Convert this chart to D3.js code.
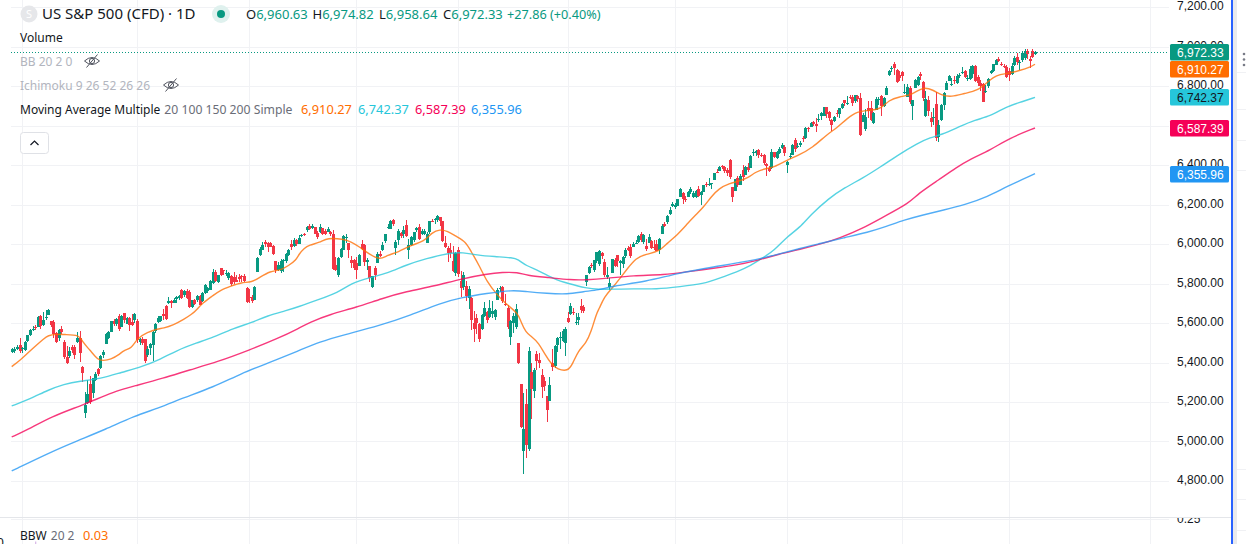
<!DOCTYPE html>
<html>
<head>
<meta charset="utf-8">
<title>US S&amp;P 500 (CFD) 1D</title>
<script src="https://cdn.jsdelivr.net/npm/d3@7/dist/d3.min.js"></script>
<style>
  html, body { margin: 0; padding: 0; background: #fff; overflow: hidden; }
  svg { display: block; font-family: "Noto Sans", "Open Sans", sans-serif; }
</style>
</head>
<body>
<svg id="chart" width="1246" height="544"></svg>
<script>
// Daily candles, one row per month across the four arrays.
const opens = [
  5452,5458,5470,5488,
  5472,5462,5507,5540,5570,5578,5582,5636,5590,5630,5640,5610,5607,5548,5525,5570,5505,5430,5432,5476,5478,5505,
  5525,5379,5143,5193,5291,5244,5312,5365,5374,5440,5496,5525,5555,5612,5595,5635,5580,5649,5597,5625,5607,5615,
  5612,5505,5520,5517,5438,5475,5490,5557,5603,5612,5645,5686,5700,5710,5703,5722,5725,5767,5742,5763,
  5758,5680,5716,5716,5737,5712,5750,5764,5768,5805,5860,5810,5876,5868,5848,5826,5838,5831,5818,5835,5838,5840,5775,
  5734,5730,5716,5860,5944,5970,6012,6007,6003,5990,5914,5870,5865,5912,5915,5945,6000,5990,6020,6000,
  6040,6050,6070,6090,6081,6085,6058,6060,6080,6064,6062,6060,6050,5895,5842,5935,5970,6035,6005,5920,5920,
  5903,5891,6000,5995,5910,5890,5780,5880,5905,5950,5970,6015,6080,6077,6120,5980,6020,6055,6050,6095,
  5969,5995,6020,6072,6085,6050,6050,6005,6060,6115,6122,6120,6135,6114,6005,5980,5970,5915,5855,
  5968,5812,5782,5785,5725,5725,5600,5625,5595,5570,5635,5655,5630,5645,5630,5718,5775,5780,5695,5675,5530,
  5598,5580,5500,5292,4950,5190,4960,5353,5255,5441,5411,5335,5305,5232,5207,5395,5381,5489,5529,5508,5500,
  5626,5645,5655,5605,5615,5685,5680,5807,5855,5895,5870,5915,5900,5955,5910,5835,5782,5855,5920,5945,5905,
  5897,5938,5978,5985,5987,6004,6010,6050,6010,5990,6005,6015,5985,6000,5970,6050,6100,6110,6150,6190,
  6187,6190,6240,6260,6230,6240,6265,6240,6240,6280,6250,6265,6305,6300,6305,6325,6365,6370,6395,6390,6375,6425,
  6290,6270,6335,6300,6375,6350,6390,6385,6460,6460,6475,6450,6450,6405,6385,6385,6465,6435,6460,6485,6490,
  6400,6445,6450,6525,6490,6500,6535,6535,6585,6590,6620,6610,6630,6650,6650,6695,6670,6630,6625,6665,6660,
  6690,6730,6715,6745,6745,6725,6750,6740,6620,6580,6690,6690,6615,6680,6735,6750,6700,6755,6855,6890,6910,6880,6855,
  6870,6770,6745,6790,6700,6790,6805,6860,6820,6650,6730,6640,6640,6710,6540,6630,6705,6780,6825,
  6812,6830,6815,6855,6865,6875,6835,6835,6860,6900,6845,6815,6810,6770,6800,6865,6875,6905,6935,6910,6900,6895,
  6875,6860,6905,6945,6915,6930,6940,6975,6935,6975,6960.63
];
const highs = [
  5472,5480,5490,5523,
  5479,5511,5540,5570,5583,5590,5635,5642,5655,5668,5670,5612,5615,5556,5570,5585,5516,5482,5480,5487,5490,5552,
  5560,5384,5252,5311,5330,5320,5350,5372,5436,5463,5547,5562,5610,5620,5625,5645,5640,5650,5628,5630,5646,5650,
  5620,5522,5530,5520,5482,5497,5560,5600,5636,5637,5670,5690,5733,5715,5725,5735,5741,5770,5766,5770,
  5765,5716,5722,5740,5742,5755,5795,5780,5820,5872,5870,5845,5878,5870,5866,5860,5842,5860,5845,5850,5845,5850,5780,
  5770,5741,5785,5935,5983,6012,6018,6010,6008,5993,5915,5910,5925,5925,5955,5975,6020,6030,6025,6044,
  6053,6056,6090,6100,6099,6085,6065,6100,6080,6075,6085,6065,6070,5935,5935,5980,6045,6050,6006,5940,5925,
  5935,5950,6022,6000,5928,5890,5840,5887,5960,5965,6010,6050,6100,6120,6128,6020,6075,6060,6090,6120,
  6023,6042,6062,6085,6101,6075,6076,6060,6116,6128,6130,6147,6135,6118,6043,5990,6005,5990,5960,
  5986,5865,5860,5812,5785,5730,5660,5645,5600,5645,5705,5660,5715,5710,5670,5775,5785,5785,5745,5690,5615,
  5650,5695,5500,5292,5246,5265,5480,5396,5370,5460,5450,5365,5328,5232,5329,5469,5489,5528,5553,5571,5581,
  5658,5700,5678,5650,5650,5722,5690,5845,5890,5906,5920,5960,5970,5957,5925,5882,5830,5925,5930,5945,5920,
  5940,5980,5990,5998,6010,6020,6045,6060,6050,6025,6050,6020,6018,6019,6030,6100,6110,6145,6187,6215,
  6210,6228,6285,6265,6242,6270,6290,6270,6272,6292,6268,6300,6316,6336,6310,6360,6381,6395,6400,6395,6385,6428,
  6290,6330,6345,6355,6400,6395,6410,6450,6480,6475,6480,6460,6458,6410,6395,6480,6466,6470,6490,6510,6500,
  6420,6460,6505,6535,6510,6520,6545,6590,6590,6620,6625,6640,6660,6670,6695,6695,6675,6635,6650,6680,6690,
  6715,6730,6750,6755,6755,6755,6755,6765,6665,6685,6725,6725,6670,6745,6745,6755,6745,6800,6880,6900,6920,6885,6875,
  6875,6810,6810,6800,6730,6835,6850,6870,6825,6775,6750,6670,6690,6770,6630,6710,6770,6825,6855,
  6843,6850,6860,6865,6895,6880,6855,6900,6905,6905,6855,6830,6815,6805,6840,6880,6910,6935,6945,6920,6910,6905,
  6890,6915,6950,6965,6930,6975,6985,6985,6950,6985,6974.82
];
const lows = [
  5448,5450,5465,5448,
  5449,5460,5505,5535,5562,5566,5580,5570,5583,5615,5638,5580,5522,5497,5510,5545,5417,5390,5425,5450,5420,5497,
  5405,5303,5120,5190,5190,5222,5305,5332,5368,5425,5494,5520,5552,5585,5585,5560,5578,5600,5593,5560,5585,5600,
  5497,5490,5490,5400,5430,5440,5406,5550,5600,5603,5614,5615,5696,5674,5700,5700,5715,5722,5730,5720,
  5677,5675,5690,5708,5690,5705,5745,5750,5765,5800,5810,5805,5838,5843,5840,5820,5785,5800,5810,5808,5806,5810,5703,
  5702,5700,5715,5860,5940,5970,5985,5960,5985,5945,5855,5865,5855,5860,5905,5940,5970,5985,5990,6000,
  6033,6040,6060,6070,6078,6050,6025,6055,6045,6045,6060,6040,5867,5865,5832,5930,5970,6005,5930,5880,5870,
  5825,5890,5970,5890,5870,5810,5775,5820,5905,5935,5965,6005,6075,6075,6090,5945,5995,6030,6030,6035,
  5925,5990,6010,6060,6020,6045,6045,6005,6050,6110,6100,6110,6090,6010,5980,5910,5930,5858,5840,
  5832,5732,5765,5710,5670,5565,5505,5545,5505,5565,5630,5600,5625,5625,5615,5715,5755,5700,5685,5570,5490,
  5550,5571,5390,5070,4835,4915,4950,5115,5220,5360,5370,5220,5255,5101,5207,5358,5371,5455,5468,5505,5434,
  5598,5640,5640,5590,5590,5650,5650,5785,5850,5880,5860,5905,5890,5925,5835,5825,5768,5855,5885,5885,5845,
  5880,5930,5965,5930,5985,6000,6005,6010,6000,5965,6005,5975,5970,5965,5950,6050,6085,6100,6145,6185,
  6175,6190,6240,6205,6215,6240,6255,6235,6235,6240,6200,6262,6290,6295,6280,6325,6360,6370,6380,6360,6345,6330,
  6212,6270,6290,6298,6320,6350,6365,6385,6445,6445,6435,6440,6400,6345,6365,6380,6435,6430,6455,6480,6445,
  6360,6430,6450,6465,6485,6490,6515,6530,6565,6590,6600,6565,6620,6630,6650,6640,6625,6570,6620,6645,6640,
  6685,6700,6705,6735,6700,6715,6720,6548,6620,6570,6640,6625,6610,6680,6705,6650,6695,6755,6850,6870,6855,6815,6825,
  6825,6760,6745,6710,6630,6790,6800,6830,6725,6645,6650,6590,6605,6520,6515,6625,6680,6780,6825,
  6800,6810,6810,6840,6860,6840,6825,6830,6840,6820,6800,6775,6720,6765,6790,6860,6870,6905,6920,6900,6890,6840,
  6825,6855,6900,6905,6880,6920,6930,6935,6893,6940,6958.64
];
const closes = [
  5468,5470,5480,5458,
  5474,5505,5537,5565,5572,5577,5632,5586,5616,5631,5667,5588,5544,5505,5564,5555,5427,5399,5459,5463,5436,5522,
  5446,5346,5185,5240,5199,5319,5344,5344,5434,5455,5543,5554,5608,5597,5620,5570,5634,5616,5625,5592,5591,5648,
  5512,5520,5500,5408,5466,5495,5554,5596,5626,5633,5634,5618,5713,5702,5718,5732,5735,5725,5763,5725,
  5680,5716,5696,5737,5690,5750,5792,5776,5815,5859,5815,5842,5841,5864,5853,5851,5797,5809,5808,5823,5832,5813,5705,
  5728,5712,5782,5929,5973,5995,6001,5983,5985,5949,5870,5893,5916,5917,5948,5969,5987,6021,5998,6032,
  6047,6049,6086,6075,6090,6052,6034,6084,6051,6051,6074,6050,5872,5867,5930,5974,6040,6037,5970,5906,5881,
  5868,5942,5975,5909,5918,5827,5836,5842,5949,5937,5996,6049,6086,6118,6101,6012,6067,6039,6071,6040,
  5994,6037,6061,6083,6025,6066,6068,6051,6115,6114,6129,6144,6117,6013,5983,5955,5956,5861,5954,
  5849,5778,5842,5738,5770,5614,5572,5599,5521,5639,5675,5614,5675,5662,5667,5767,5776,5712,5693,5581,5612,
  5633,5671,5397,5074,5062,4983,5457,5268,5363,5406,5396,5276,5283,5158,5288,5376,5484,5525,5529,5561,5569,
  5604,5686,5650,5607,5631,5664,5660,5844,5886,5892,5917,5958,5964,5940,5845,5842,5802,5922,5889,5912,5912,
  5936,5970,5971,5939,6000,6006,6038,6022,6045,5977,6033,5982,5981,5967,6025,6092,6092,6141,6173,6205,
  6198,6227,6279,6230,6225,6263,6280,6260,6268,6244,6264,6297,6297,6305,6309,6359,6363,6389,6390,6371,6362,6339,
  6238,6330,6299,6345,6340,6389,6373,6445,6466,6469,6449,6449,6411,6395,6370,6467,6439,6465,6481,6502,6460,
  6415,6448,6502,6481,6495,6512,6532,6587,6584,6615,6606,6600,6631,6664,6693,6656,6637,6605,6644,6661,6688,
  6711,6715,6715,6740,6714,6753,6735,6553,6654,6644,6671,6629,6664,6735,6735,6699,6738,6791,6875,6890,6890,6822,6840,
  6851,6771,6796,6720,6728,6832,6846,6850,6737,6734,6672,6617,6642,6538,6602,6705,6766,6813,6849,
  6812,6829,6849,6857,6870,6846,6840,6886,6901,6827,6816,6800,6721,6775,6834,6878,6909,6932,6929,6905,6896,6845,
  6858,6902,6944,6920,6921,6966,6977,6963,6926,6944.47,6972.33
];

// Moving averages as [bar, value] vertices.
const ma20 = [[0,5379],[3,5409],[6,5446],[10,5494],[12,5517],[14,5538],[17,5544],[20,5541],[26,5541],[27,5505],[30,5463],[33,5413],[35,5409],[38,5416],[41,5438],[43,5463],[46,5472],[48,5522],[52,5553],[56,5571],[58,5573],[62,5590],[66,5619],[69,5644],[71,5669],[73,5700],[77,5738],[80,5767],[84,5787],[88,5806],[92,5806],[95,5831],[99,5863],[103,5867],[106,5890],[109,5919],[110,5948],[112,5978],[114,5995],[118,6007],[121,6032],[127,6025],[130,6012],[133,5987],[137,5948],[141,5919],[144,5944],[148,5958],[153,5995],[158,6012],[161,6059],[164,6074],[167,6066],[170,6040],[174,6012],[176,5961],[179,5894],[182,5809],[186,5742],[189,5700],[194,5649],[195,5607],[197,5551],[199,5534],[202,5497],[204,5446],[207,5387],[209,5367],[213,5354],[215,5396],[217,5460],[220,5497],[222,5556],[224,5649],[225,5670],[227,5733],[230,5776],[233,5826],[236,5877],[239,5928],[243,5949],[248,5961],[251,6003],[255,6046],[259,6105],[262,6147],[265,6186],[268,6240],[271,6282],[275,6307],[278,6316],[282,6333],[285,6366],[289,6383],[292,6388],[297,6425],[301,6446],[307,6489],[312,6552],[316,6586],[320,6636],[324,6672],[328,6675],[333,6682],[336,6729],[340,6746],[345,6754],[349,6797],[353,6780],[356,6754],[360,6744],[365,6763],[370,6776],[374,6822],[377,6856],[382,6864],[386,6878],[390,6894],[392,6910.27]];
const ma100 = [[0,5180],[7,5215],[14,5261],[20,5290],[26,5306],[34,5317],[42,5350],[50,5379],[57,5416],[63,5460],[71,5500],[77,5527],[85,5573],[92,5602],[98,5637],[105,5662],[110,5683],[117,5716],[125,5754],[130,5801],[137,5830],[144,5851],[151,5894],[159,5927],[167,5953],[173,5958],[178,5944],[185,5936],[192,5931],[194,5922],[197,5890],[202,5865],[208,5821],[213,5801],[220,5776],[225,5770],[230,5771],[238,5774],[247,5771],[256,5784],[265,5798],[271,5826],[278,5860],[283,5889],[288,5933],[292,5966],[297,6037],[302,6084],[306,6147],[313,6231],[319,6285],[326,6333],[333,6392],[339,6446],[347,6510],[352,6540],[356,6552],[363,6594],[369,6628],[375,6648],[381,6695],[386,6716],[392,6742.37]];
const ma150 = [[0,5023],[6,5058],[15,5126],[28,5188],[39,5252],[47,5281],[58,5320],[68,5362],[79,5404],[91,5463],[102,5522],[110,5573],[114,5603],[122,5644],[132,5679],[142,5725],[151,5759],[162,5787],[172,5823],[182,5848],[188,5857],[194,5857],[197,5841],[206,5830],[214,5818],[220,5818],[228,5826],[238,5841],[250,5843],[259,5860],[269,5877],[278,5894],[284,5911],[294,5949],[302,5973],[310,6000],[317,6029],[326,6079],[334,6138],[344,6209],[347,6253],[355,6324],[362,6388],[367,6429],[375,6476],[382,6535],[392,6587.39]];
const ma200 = [[0,4851],[15,4947],[25,5003],[36,5062],[47,5129],[56,5168],[66,5222],[77,5274],[88,5345],[98,5396],[110,5460],[118,5505],[127,5539],[141,5587],[153,5640],[164,5700],[172,5728],[182,5750],[192,5767],[197,5759],[205,5750],[213,5745],[219,5759],[225,5767],[230,5787],[243,5809],[255,5852],[269,5885],[282,5911],[294,5949],[302,5978],[310,6003],[319,6032],[328,6059],[335,6088],[342,6122],[349,6147],[357,6172],[365,6198],[374,6240],[381,6290],[392,6355.96]];

const maSeries = [
  { name: "20",  points: ma20,  color: "#FF6D00", text: "#ffffff" },
  { name: "100", points: ma100, color: "#26C6DA", text: "#131722" },
  { name: "150", points: ma150, color: "#F50057", text: "#ffffff" },
  { name: "200", points: ma200, color: "#2196F3", text: "#ffffff" }
];

const priceTicks = [7200,7000,6800,6600,6400,6200,6000,5800,5600,5400,5200,5000,4800];
const monthGridBars = [4,48,91,132,171,213,254,297,341,382,436];
const lastPrice = 6972.33;
const bbwLabelValue = 0.25;
const bbwStub = [[9,0.142],[9,0.13]];

const UP = "#089981", DOWN = "#F23645", GRID = "#f1f2f5", TEXT = "#131722", MUTED = "#b2b5be", SUB = "#6a6d78";
const SCALE_FONT = '"Liberation Sans", Arial, sans-serif';

const svg = d3.select("#chart");
const x = d3.scaleLinear().domain([0, 392]).range([11.7, 1035]);
const y = d3.scaleLinear().domain([4800, 7200]).range([481, 7]);
const bbwY = d3.scaleLinear().domain([0.25, 0.13]).range([519, 544]);

const defs = svg.append("defs");
defs.append("clipPath").attr("id", "pricePane").append("rect")
  .attr("x", 11).attr("y", 0).attr("width", 1158).attr("height", 517);
defs.append("clipPath").attr("id", "lowerScale").append("rect")
  .attr("x", 1170).attr("y", 518).attr("width", 60).attr("height", 26);

// Grid
const grid = svg.append("g").attr("shape-rendering", "crispEdges");
grid.selectAll("line.v").data(monthGridBars).join("line")
  .attr("x1", d => Math.round(x(d)) + 0.5).attr("x2", d => Math.round(x(d)) + 0.5)
  .attr("y1", 0).attr("y2", 544).attr("stroke", GRID);
grid.selectAll("line.h").data(priceTicks).join("line")
  .attr("x1", 11).attr("x2", 1169)
  .attr("y1", d => Math.round(y(d)) + 0.5).attr("y2", d => Math.round(y(d)) + 0.5)
  .attr("stroke", GRID);
grid.append("line").attr("x1", 0).attr("x2", 1231).attr("y1", 517.5).attr("y2", 517.5).attr("stroke", "#e4e6ea");
grid.append("line").attr("x1", 11).attr("x2", 1169).attr("y1", 519.5).attr("y2", 519.5).attr("stroke", GRID);

// Candles
const pane = svg.append("g").attr("clip-path", "url(#pricePane)");
const candles = pane.append("g").attr("shape-rendering", "crispEdges");
const barRows = d3.range(closes.length);
candles.selectAll("line").data(barRows).join("line")
  .attr("x1", i => Math.round(x(i)) + 0.5).attr("x2", i => Math.round(x(i)) + 0.5)
  .attr("y1", i => y(highs[i])).attr("y2", i => y(lows[i]))
  .attr("stroke", i => closes[i] >= opens[i] ? UP : DOWN);
candles.selectAll("rect").data(barRows).join("rect")
  .attr("x", i => Math.round(x(i)) - 1).attr("width", 3)
  .attr("y", i => Math.min(y(opens[i]), y(closes[i])))
  .attr("height", i => Math.max(1, Math.abs(y(opens[i]) - y(closes[i]))))
  .attr("fill", i => closes[i] >= opens[i] ? UP : DOWN);

// Moving average lines
const maLine = d3.line().x(d => x(d[0])).y(d => y(d[1])).curve(d3.curveBasis);
pane.selectAll("path.ma").data(maSeries).join("path")
  .attr("class", "ma").attr("fill", "none")
  .attr("stroke", d => d.color).attr("stroke-width", 1.4).attr("stroke-opacity", 0.78)
  .attr("d", d => maLine(d.points));

// Last price line
svg.append("line").attr("x1", 11).attr("x2", 1169)
  .attr("y1", Math.round(y(lastPrice)) + 0.5).attr("y2", Math.round(y(lastPrice)) + 0.5)
  .attr("stroke", UP).attr("stroke-dasharray", "1 2");

// Price scale
const axis = d3.axisRight(y).tickValues(priceTicks).tickFormat(d3.format(",.2f")).tickSize(0).tickPadding(0);
const axisG = svg.append("g").attr("transform", "translate(1177,-1)").call(axis);
axisG.select(".domain").remove();
axisG.selectAll("text").attr("font-size", 12).attr("fill", TEXT).attr("font-family", SCALE_FONT);

// Lower pane scale label, cut off by the pane edge
svg.append("text").attr("clip-path", "url(#lowerScale)")
  .attr("x", 1177).attr("y", bbwY(bbwLabelValue) + 4).attr("font-size", 12).attr("fill", TEXT)
  .attr("font-family", SCALE_FONT).text(bbwLabelValue.toFixed(2));

// Value tags on the scale, stacked when they would overlap
const tags = [{ value: lastPrice, color: UP, text: "#ffffff" }]
  .concat(maSeries.map(s => ({ value: s.points[s.points.length - 1][1], color: s.color, text: s.text })))
  .sort((a, b) => b.value - a.value);
let nextTop = 0;
tags.forEach(t => {
  t.top = Math.max(Math.round(y(t.value)) - 8, nextTop);
  nextTop = t.top + 17;
});
const tagG = svg.append("g").selectAll("g").data(tags).join("g")
  .attr("transform", d => `translate(1170,${d.top})`);
tagG.append("rect").attr("width", 59).attr("height", 16.5).attr("rx", 1.5).attr("fill", d => d.color);
tagG.append("text").attr("x", 7).attr("y", 12.5).attr("font-size", 12).attr("font-family", SCALE_FONT)
  .attr("fill", d => d.text).text(d => d3.format(",.2f")(d.value));

// Right edge
svg.append("rect").attr("x", 1233).attr("y", 0).attr("width", 4).attr("height", 544).attr("fill", "#e9eaed");
svg.append("rect").attr("x", 1231).attr("y", 0).attr("width", 2).attr("height", 544).attr("fill", "#2962FF");
svg.append("g").selectAll("line").data([72, 109, 140, 170, 469, 499, 530]).join("line")
  .attr("x1", 1237).attr("x2", 1246).attr("y1", d => d + 0.5).attr("y2", d => d + 0.5).attr("stroke", "#f0f1f4");
svg.append("g").selectAll("circle").data([54, 59.5, 65]).join("circle")
  .attr("cx", 1244).attr("cy", d => d).attr("r", 1.3).attr("fill", "#787b86");

// Header: symbol and OHLC
svg.append("circle").attr("cx", 29).attr("cy", 14).attr("r", 8.5).attr("fill", "#e6e7ea");
svg.append("text").attr("x", 29).attr("y", 18).attr("text-anchor", "middle").attr("font-size", 11).attr("fill", "#fff").text("S");
svg.append("text").attr("x", 42).attr("y", 19).attr("font-size", 15).attr("fill", TEXT).text("US S&P 500 (CFD) \u00b7 1D");
svg.append("circle").attr("cx", 221).attr("cy", 14).attr("r", 9).attr("fill", "#dff1ee");
svg.append("circle").attr("cx", 221).attr("cy", 14).attr("r", 4).attr("fill", UP);

const ohlcParts = [
  { key: "O", value: "6,960.63", x: 246 },
  { key: "H", value: "6,974.82", x: 312.5 },
  { key: "L", value: "6,958.64", x: 379 },
  { key: "C", value: "6,972.33", x: 443 }
];
const ohlc = svg.append("g").attr("font-size", 13).selectAll("text").data(ohlcParts).join("text")
  .attr("x", d => d.x).attr("y", 19).attr("fill", UP);
ohlc.append("tspan").attr("fill", TEXT).text(d => d.key);
ohlc.append("tspan").text(d => d.value);
svg.append("text").attr("x", 507).attr("y", 19).attr("font-size", 12.7).attr("fill", UP).text("+27.86 (+0.40%)");

// Indicator legend
const legendFont = 12;
svg.append("text").attr("x", 20).attr("y", 42).attr("font-size", legendFont).attr("fill", TEXT).text("Volume");
svg.append("text").attr("x", 20).attr("y", 66).attr("font-size", legendFont).attr("fill", MUTED).text("BB 20 2 0");
svg.append("text").attr("x", 20).attr("y", 90).attr("font-size", legendFont).attr("fill", MUTED).text("Ichimoku 9 26 52 26 26");

function hiddenEye(cx, cy) {
  const g = svg.append("g").attr("transform", `translate(${cx},${cy})`).attr("fill", "none").attr("stroke", "#50535e").attr("stroke-width", 1);
  g.append("path").attr("d", "M-7.5,0 Q0,-7 7.5,0 Q0,7 -7.5,0 Z");
  g.append("circle").attr("r", 2.6);
  g.append("line").attr("x1", -5.5).attr("y1", 6.5).attr("x2", 5.5).attr("y2", -6.5);
}
hiddenEye(92, 61);
hiddenEye(171, 85);

const maLegend = svg.append("text").attr("x", 20).attr("y", 114).attr("font-size", legendFont).attr("fill", TEXT);
maLegend.append("tspan").text("Moving Average Multiple");
maLegend.append("tspan").attr("dx", 4).attr("fill", SUB).attr("font-size", 12.2).text("20 100 150 200 Simple");
const maValueX = [301, 358, 415, 471];
svg.append("g").selectAll("text").data(maSeries).join("text")
  .attr("x", (d, i) => maValueX[i]).attr("y", 114).attr("font-size", 12.8)
  .attr("fill", d => d.color).text(d => d3.format(",.2f")(d.points[d.points.length - 1][1]));

svg.append("rect").attr("x", 20.5).attr("y", 132.5).attr("width", 28).attr("height", 21).attr("rx", 3)
  .attr("fill", "#fff").attr("stroke", "#dfe1e6");
svg.append("path").attr("d", "M30.5,145 L34.5,141 L38.5,145").attr("fill", "none").attr("stroke", TEXT).attr("stroke-width", 1.2);

// Bollinger band width pane
const bbw = svg.append("text").attr("x", 20).attr("y", 540).attr("font-size", legendFont).attr("fill", TEXT);
bbw.append("tspan").text("BBW");
bbw.append("tspan").attr("dx", 4).attr("fill", SUB).text("20 2");
svg.append("text").attr("x", 83).attr("y", 540).attr("font-size", 12.8).attr("fill", "#FF6D00").text("0.03");
svg.append("path").attr("fill", "none").attr("stroke", "#d6b4e6").attr("stroke-width", 1.2)
  .attr("d", d3.line().x(d => x(d[0]) + 0.5).y(d => bbwY(d[1]))(bbwStub));
svg.append("text").attr("x", -3).attr("y", 547).attr("font-size", 12).attr("fill", TEXT).text("0");
</script>
</body>
</html>
